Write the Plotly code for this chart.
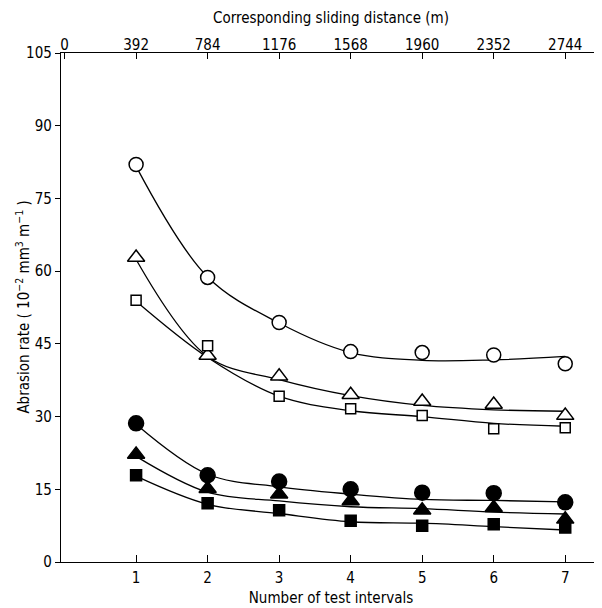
import plotly.graph_objects as go

# Data
intervals = [1, 2, 3, 4, 5, 6, 7]
top_tick_vals = [0, 1, 2, 3, 4, 5, 6, 7]
top_tick_text = ["0", "392", "784", "1176", "1568", "1960", "2352", "2744"]
y_ticks = [0, 15, 30, 45, 60, 75, 90, 105]

# measured points
open_circle = [82.0, 58.7, 49.4, 43.4, 43.2, 42.7, 40.9]
open_triangle = [62.8, 42.6, 38.3, 34.5, 33.1, 32.5, 30.2]
open_square = [54.0, 44.6, 34.2, 31.6, 30.2, 27.5, 27.7]
filled_circle = [28.6, 17.9, 16.6, 15.0, 14.3, 14.2, 12.3]
filled_triangle = [22.2, 15.1, 14.0, 12.6, 10.7, 11.2, 8.8]
filled_square = [17.9, 12.1, 10.7, 8.5, 7.5, 7.8, 7.1]

# fitted curves, values at each interval
curve_open_circle = [81.6, 58.8, 49.3, 43.2, 41.6, 41.7, 42.4]
curve_open_triangle = [62.4, 42.4, 37.6, 34.3, 32.3, 31.4, 31.1]
curve_open_square = [53.8, 42.2, 34.2, 31.2, 30.0, 28.6, 28.0]
curve_filled_circle = [28.4, 18.1, 15.5, 14.0, 12.9, 12.7, 12.4]
curve_filled_triangle = [21.8, 14.4, 12.6, 11.4, 11.0, 10.3, 9.9]
curve_filled_square = [17.7, 11.9, 10.0, 8.3, 8.0, 7.3, 6.6]

FONT = "Liberation Sans Narrow, DejaVu Sans Condensed, DejaVu Sans"

fig = go.Figure()

curves = [curve_open_circle, curve_open_triangle, curve_open_square,
          curve_filled_circle, curve_filled_triangle, curve_filled_square]
for c in curves:
    fig.add_trace(go.Scatter(x=intervals, y=c, mode="lines",
                             line=dict(color="black", width=1.3, shape="spline", smoothing=1.0),
                             hoverinfo="skip", showlegend=False))

markers = [
    (open_circle, "circle", 14, "white"),
    (open_triangle, "triangle-up", 15, "white"),
    (open_square, "square", 10, "white"),
    (filled_circle, "circle", 15, "black"),
    (filled_triangle, "triangle-up", 15, "black"),
    (filled_square, "square", 11, "black"),
]
for vals, sym, size, fill in markers:
    fig.add_trace(go.Scatter(x=intervals, y=vals, mode="markers",
                             marker=dict(symbol=sym, size=size, color=fill,
                                         line=dict(color="black", width=1.5)),
                             showlegend=False))

# invisible trace to anchor the top axis
fig.add_trace(go.Scatter(x=[0], y=[0], xaxis="x2", mode="markers",
                         marker=dict(opacity=0), hoverinfo="skip", showlegend=False))

xr = [-0.05, 7.5]
# the page body has an 8px margin, so the figure is sized to fit in the window
fig.update_layout(
    width=594, height=600,
    margin=dict(l=53, r=1, t=45, b=46),
    paper_bgcolor="white", plot_bgcolor="white",
    font=dict(family=FONT, color="black", size=15),
    xaxis=dict(range=xr, tickvals=intervals, ticktext=[str(v) for v in intervals],
               ticks="inside", ticklen=7, tickwidth=1.2, tickcolor="black",
               showline=True, linecolor="black", linewidth=1.3,
               showgrid=False, zeroline=False, mirror=False, automargin=False,
               tickfont=dict(size=15), ticklabelstandoff=2,
               title=dict(text="Number of test intervals", font=dict(size=15), standoff=6)),
    xaxis2=dict(range=xr, overlaying="x", side="top", tickvals=top_tick_vals,
                ticktext=top_tick_text, ticks="inside", ticklen=6, tickwidth=1.2,
                tickcolor="black", showline=True, linecolor="black", linewidth=1.3,
                showgrid=False, zeroline=False, automargin=False, tickfont=dict(size=15),
                ticklabelstandoff=-4,
                title=dict(text="Corresponding sliding distance (m)", font=dict(size=15), standoff=8)),
    yaxis=dict(range=[0, 105], tickvals=y_ticks, ticks="outside", ticklen=5, tickwidth=1.2,
               tickcolor="black", showline=True, linecolor="black", linewidth=1.3,
               showgrid=False, zeroline=False, automargin=False, tickfont=dict(size=15)),
    annotations=[dict(text="Abrasion rate ( 10<sup>−2</sup> mm<sup>3</sup> m<sup>−1</sup> )",
                      xref="paper", yref="paper", x=-0.072, y=0.5,
                      xanchor="center", yanchor="middle", textangle=-90,
                      showarrow=False, font=dict(size=15))],
)

fig.write_html("out.html")
